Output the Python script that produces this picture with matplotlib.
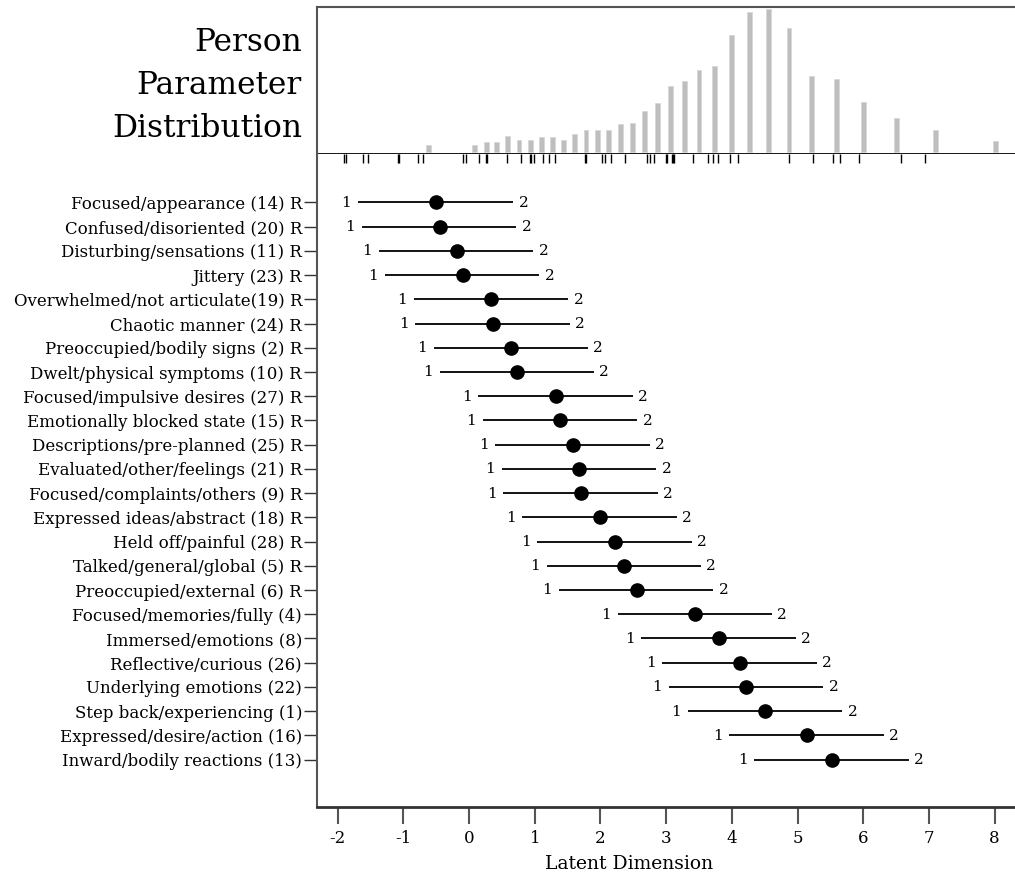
import matplotlib
matplotlib.use("Agg")
import matplotlib.pyplot as plt
import matplotlib.transforms as mtransforms

# ---------------- data ----------------
item_labels = [
    "Focused/appearance (14) R", "Confused/disoriented (20) R",
    "Disturbing/sensations (11) R", "Jittery (23) R",
    "Overwhelmed/not articulate(19) R", "Chaotic manner (24) R",
    "Preoccupied/bodily signs (2) R", "Dwelt/physical symptoms (10) R",
    "Focused/impulsive desires (27) R", "Emotionally blocked state (15) R",
    "Descriptions/pre-planned (25) R", "Evaluated/other/feelings (21) R",
    "Focused/complaints/others (9) R", "Expressed ideas/abstract (18) R",
    "Held off/painful (28) R", "Talked/general/global (5) R",
    "Preoccupied/external (6) R", "Focused/memories/fully (4)",
    "Immersed/emotions (8)", "Reflective/curious (26)",
    "Underlying emotions (22)", "Step back/experiencing (1)",
    "Expressed/desire/action (16)", "Inward/bodily reactions (13)",
]
item_location = [-0.51, -0.45, -0.19, -0.10, 0.34, 0.36, 0.64, 0.73,
                 1.32, 1.39, 1.58, 1.68, 1.70, 1.99, 2.22, 2.36,
                 2.55, 3.44, 3.80, 4.12, 4.22, 4.51, 5.14, 5.52]
threshold_1 = [-1.69, -1.63, -1.37, -1.28, -0.84, -0.82, -0.54, -0.45,
               0.14, 0.21, 0.40, 0.50, 0.52, 0.81, 1.04, 1.18,
               1.37, 2.26, 2.62, 2.94, 3.04, 3.33, 3.96, 4.34]
threshold_2 = [0.67, 0.72, 0.98, 1.07, 1.51, 1.53, 1.81, 1.90,
               2.49, 2.56, 2.75, 2.85, 2.87, 3.16, 3.39, 3.53,
               3.72, 4.61, 4.97, 5.29, 5.39, 5.68, 6.31, 6.69]

person_theta = [-0.62, 0.08, 0.26, 0.42, 0.59, 0.76, 0.93, 1.10, 1.27, 1.43,
                1.61, 1.78, 1.95, 2.12, 2.30, 2.49, 2.67, 2.87, 3.07, 3.28,
                3.50, 3.74, 3.99, 4.27, 4.56, 4.87, 5.21, 5.59, 6.01, 6.50,
                7.10, 8.01]
person_freq = [6.7, 6.7, 10, 10, 15.3, 12, 12, 14.3, 14.3, 12,
               17.3, 21.7, 21.7, 21.7, 28, 28.7, 40.3, 48.3, 65.3, 70.7,
               81.7, 86, 116.3, 140, 142.3, 123.3, 75.7, 72.3, 49.7, 33.7,
               21.3, 11]

rug_positions = [-1.91, -1.88, -1.62, -1.54, -1.09, -1.07, -0.78, -0.70,
                 -0.09, -0.04, 0.15, 0.26, 0.27, 0.57, 0.79, 0.92, 0.94,
                 0.99, 1.12, 1.21, 1.31, 1.77, 1.78, 2.03, 2.07, 2.16, 2.38,
                 2.71, 2.76, 2.81, 3.00, 3.02, 3.09, 3.11, 3.12, 3.41, 3.64,
                 3.72, 3.79, 3.97, 4.09, 4.87, 5.23, 5.54, 5.64, 5.94, 6.57,
                 6.94]

x_ticks = [-2, -1, 0, 1, 2, 3, 4, 5, 6, 7, 8]
title_lines = ["Person", "Parameter", "Distribution"]

# ---------------- figure ----------------
plt.rcParams['font.family'] = ['DejaVu Serif']
W, H = 1015, 877
fig = plt.figure(figsize=(W / 100, H / 100), dpi=100)

def fx(px):
    return px / W

def fy(py):
    return 1 - py / H

x_left, x_right = 316.7, 1015
y_top, y_mid, y_bot = 7.3, 154, 807.3
xlim = (-2.32, 8.31)

ax_top = fig.add_axes([fx(x_left), fy(y_mid), fx(x_right) - fx(x_left), fy(y_top) - fy(y_mid)])
ax = fig.add_axes([fx(x_left), fy(y_bot), fx(x_right) - fx(x_left), fy(y_mid) - fy(y_bot)])

# --- top: person parameter distribution
ax_top.bar(person_theta, person_freq, width=0.075, color='#bebebe',
           edgecolor='#d8d8d8', linewidth=0.6)
ax_top.set_xlim(*xlim)
ax_top.set_ylim(-2.3, 144.4)
ax_top.set_xticks([])
ax_top.set_yticks([])
ax_top.spines['right'].set_visible(False)
ax_top.spines['top'].set_color('#555555')
ax_top.spines['top'].set_linewidth(1.5)
ax_top.spines['left'].set_color('#555555')
ax_top.spines['left'].set_linewidth(1.5)
ax_top.spines['bottom'].set_color('black')
ax_top.spines['bottom'].set_linewidth(2)
ax_top.spines['bottom'].set_zorder(5)

for line, ypx in zip(title_lines, [42.5, 85.5, 128.5]):
    fig.text(fx(302), fy(ypx), line, ha='right', va='center', fontsize=22.5)

# --- bottom: item map
n = len(item_labels)
ypos = [n - i for i in range(n)]
for i in range(n):
    y = ypos[i]
    ax.plot([threshold_1[i], threshold_2[i]], [y, y], color='black', lw=1.3,
            solid_capstyle='butt', zorder=2)
    ax.annotate("1", (threshold_1[i], y), xytext=(-8.4, -0.3), textcoords='offset points',
                ha='center', va='center', fontsize=11)
    ax.annotate("2", (threshold_2[i], y), xytext=(7.4, -0.3), textcoords='offset points',
                ha='center', va='center', fontsize=11)
ax.plot(item_location, ypos, 'o', color='black', markersize=9.5, zorder=3, linestyle='none')

trans = mtransforms.blended_transform_factory(ax.transData, ax.transAxes)
ax.vlines(rug_positions, 1.0, 1.0 - 9 / (y_bot - y_mid), colors='black', lw=1.0,
          transform=trans, clip_on=False, zorder=4)

ax.set_xlim(*xlim)
ax.set_ylim(-0.97, 26.0)
ax.set_yticks(ypos)
ax.set_yticklabels(item_labels, fontsize=12)
ax.set_xticks(x_ticks)
ax.set_xticklabels([str(t) for t in x_ticks], fontsize=12)
ax.tick_params(axis='y', length=9.5, width=1.0, color='#333333', pad=1)
ax.tick_params(axis='x', length=12, width=1.5, color='#555555', pad=4)
ax.spines['right'].set_visible(False)
ax.spines['top'].set_visible(False)
ax.spines['left'].set_color('#555555')
ax.spines['left'].set_linewidth(1.5)
ax.spines['bottom'].set_color('#333333')
ax.spines['bottom'].set_linewidth(2)

fig.text(fx(629), fy(864), "Latent Dimension", ha='center', va='center', fontsize=13.5)

fig.savefig("out.png", dpi=100)
